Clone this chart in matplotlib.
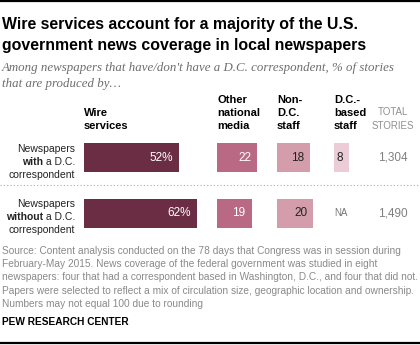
import matplotlib.pyplot as plt

# data
row_words = ["with", "without"]
wire = [52, 62]
other = [22, 19]
non_dc = [18, 20]
dc_based = [8, None]
totals = ["1,304", "1,490"]
headers = ["Wire\nservices", "Other\nnational\nmedia", "Non-\nD.C.\nstaff", "D.C.-\nbased\nstaff"]
source = ["Source: Content analysis conducted on the 78 days that Congress was in session during",
          "February-May 2015. News coverage of the federal government was studied in eight",
          "newspapers: four that had a correspondent based in Washington, D.C., and four that did not.",
          "Papers were selected to reflect a mix of circulation size, geographic location and ownership.",
          "Numbers may not equal 100 due to rounding"]

colors = ["#6b2d43", "#b96984", "#d39dac", "#ecccd6"]
text_colors = ["white", "white", "#222222", "#222222"]

W, H = 420, 345
fig = plt.figure(figsize=(W / 100, H / 100), dpi=100)


def fx(x):
    return x / W


def fy(y):
    return 1 - y / H


sans = "Liberation Sans"

# rules at top and bottom
fig.add_artist(plt.Line2D([0, 1], [fy(1), fy(1)], color="black", lw=1.6))
fig.add_artist(plt.Line2D([0, 1], [fy(343), fy(343)], color="black", lw=1.6))
# dotted separator between rows
fig.add_artist(plt.Line2D([0, 1], [fy(185), fy(185)], color="#aaaaaa", lw=0.8, ls=(0, (1, 2))))

fig.text(fx(2), fy(29), "Wire services account for a majority of the U.S.",
         fontsize=11.4, fontweight="bold", family=sans, va="baseline")
fig.text(fx(2), fy(50), "government news coverage in local newspapers",
         fontsize=11.4, fontweight="bold", family=sans, va="baseline")
fig.text(fx(2), fy(71), "Among newspapers that have/don't have a D.C. correspondent, % of stories",
         fontsize=9.3, style="italic", family="Liberation Serif", color="#6d6d6d", va="baseline")
fig.text(fx(2), fy(87), "that are produced by\u2026",
         fontsize=9.3, style="italic", family="Liberation Serif", color="#6d6d6d", va="baseline")

# bar axes: 1.82 px per percentage point, starting at x=84
scale = 1.82
ax = fig.add_axes([fx(84), fy(241), fx(336), (241 - 130) / H])
ax.set_xlim(0, 336 / scale)
ax.set_ylim(1.5, -0.5)
ax.axis("off")

offsets = [0, (217 - 84) / scale, (277 - 84) / scale, (334 - 84) / scale]
series = [wire, other, non_dc, dc_based]
for s, vals in enumerate(series):
    for r, v in enumerate(vals):
        if v is None:
            ax.text(offsets[s], r, "NA", color="#777777", fontsize=7,
                    family=sans, va="center", ha="left")
            continue
        ax.barh(r, v, left=offsets[s], height=0.53, color=colors[s])
        lab = f"{v}%" if s == 0 else str(v)
        ax.text(offsets[s] + v - 6 / scale, r, lab, color=text_colors[s],
                fontsize=8.5, family=sans, va="center", ha="right")

for r, t in enumerate(totals):
    ax.text((393 - 84) / scale, r, t, color="#808080", fontsize=8.5,
            family=sans, va="center", ha="center")

# column headers
for s, h in enumerate(headers):
    fig.text(fx(84 + offsets[s] * scale), fy(131), h, fontsize=8, fontweight="bold",
             family=sans, va="bottom", ha="left", linespacing=1.4)
fig.text(fx(393), fy(131), "TOTAL\nSTORIES", fontsize=7, color="#909090",
         family=sans, va="bottom", ha="center", linespacing=1.5)

# row labels
renderer = fig.canvas.get_renderer()
lab_fs = 7.5
for r, word in enumerate(row_words):
    y0 = 149 + r * 55
    fig.text(fx(75), fy(y0), "Newspapers", fontsize=lab_fs, family=sans,
             ha="right", va="center", color="#222222")
    t = fig.text(fx(75), fy(y0 + 13), " a D.C.", fontsize=lab_fs, family=sans,
                 ha="right", va="center", color="#222222")
    left = t.get_window_extent(renderer).x0
    fig.text(left / fig.dpi / fig.get_figwidth(), fy(y0 + 13), word, fontsize=lab_fs,
             fontweight="bold", family=sans, ha="right", va="center", color="#222222")
    fig.text(fx(75), fy(y0 + 26), "correspondent", fontsize=lab_fs, family=sans,
             ha="right", va="center", color="#222222")

# source
for i, line in enumerate(source):
    fig.text(fx(2), fy(251 + i * 13.2), line, fontsize=7.3, family=sans,
             color="#8a8a8a", va="center")
fig.text(fx(2), fy(322), "PEW RESEARCH CENTER", fontsize=7.3, fontweight="bold",
         family=sans, va="center")

fig.savefig("out.png", dpi=100)
